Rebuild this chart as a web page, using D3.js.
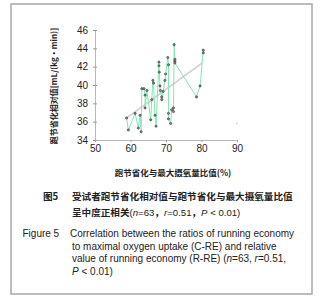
<!DOCTYPE html>
<html><head><meta charset="utf-8">
<script src="https://cdn.jsdelivr.net/npm/d3@7"></script>
<style>body{margin:0;background:#fff}svg{display:block}</style>
</head><body>
<script>
// data, ordered as connected by the green line
const xVals = [58.9,59.4,61.3,62.2,62.7,63.0,63.2,63.8,64.1,64.1,64.6,65.7,66.0,66.3,66.5,66.9,67.2,68.0,68.0,68.1,68.3,68.4,68.8,68.8,69.2,69.7,69.9,70.5,70.7,70.7,70.7,71.3,71.6,72.1,72.1,72.3,72.5,72.5,72.5,78.6,79.6,80.5,80.5];
const yVals = [36.4,35.1,36.9,35.3,36.7,34.9,39.6,39.6,38.9,37.5,39.4,36.2,38.4,40.5,40.2,36.7,35.5,42.5,42.1,41.4,39.9,39.4,38.7,38.4,39.3,40.5,41.2,43.0,42.2,36.9,36.3,35.8,37.3,37.5,37.1,44.4,42.8,42.6,42.4,38.7,39.9,43.8,43.5];
const trendX = [58.9, 80.2];
const trendY = [36.4, 42.4];
const strayX = [90];
const strayY = [35.8];
const xTicks = [50,60,70,80,90];
const yTicks = [34,36,38,40,42,44,46];

const W=321,H=300;
const svg=d3.select("body").append("svg").attr("width",W).attr("height",H);
svg.append("rect").attr("x",11).attr("y",4).attr("width",301).attr("height",290)
  .attr("fill","none").attr("stroke","#a8a8a8").attr("stroke-width",1.5);

const x=d3.scaleLinear().domain([50,90]).range([95,237]);
const y=d3.scaleLinear().domain([34,46]).range([140,30]);

const ax=svg.append("g").attr("transform","translate(0,140)")
  .call(d3.axisBottom(x).tickValues(xTicks).tickSize(2).tickPadding(3));
const ay=svg.append("g").attr("transform","translate(95,0)")
  .call(d3.axisLeft(y).tickValues(yTicks).tickSize(2).tickPadding(5));
[ax,ay].forEach(g=>{
  g.select(".domain").attr("stroke","#b8b8b8");
  g.selectAll(".tick line").attr("stroke","#999");
  g.selectAll("text").attr("font-family","Liberation Sans, Arial, sans-serif").attr("font-size",10).attr("fill","#222");
});
ay.selectAll(".tick").append("line").attr("x1",0).attr("x2",2).attr("stroke","#999");

const pts=xVals.map((v,i)=>[v,yVals[i]]);
svg.append("line").attr("x1",x(trendX[0])).attr("y1",y(trendY[0])).attr("x2",x(trendX[1])).attr("y2",y(trendY[1]))
  .attr("stroke","#d4d4d4").attr("stroke-width",1.6);
svg.append("path").attr("d",d3.line().x(d=>x(d[0])).y(d=>y(d[1]))(pts))
  .attr("fill","none").attr("stroke","#86e6b4").attr("stroke-width",1);
svg.selectAll("circle.p").data(pts).join("circle").attr("class","p")
  .attr("cx",d=>x(d[0])).attr("cy",d=>y(d[1])).attr("r",1.1)
  .attr("fill","#888").attr("stroke","#333").attr("stroke-width",0.6);
svg.selectAll("circle.s").data(strayX.map((v,i)=>[v,strayY[i]])).join("circle").attr("class","s")
  .attr("cx",d=>x(d[0])).attr("cy",d=>y(d[1])).attr("r",1.1).attr("fill","#ddd");

const cjk="Noto Sans CJK SC, sans-serif";
const lat="Liberation Sans, Arial, sans-serif";
svg.append("text").attr("transform","translate(57,86) rotate(-90)").attr("text-anchor","middle")
  .attr("font-family",cjk).attr("font-size",8).attr("font-weight",700).attr("fill","#222")
  .text("跑节省化相对值[mL/(kg•min)]");
svg.append("text").attr("x",173).attr("y",176).attr("text-anchor","middle")
  .attr("font-family",cjk).attr("font-size",8.5).attr("font-weight",700).attr("fill","#222")
  .text("跑节省化与最大摄氧量比值(%)");

function line(xp,yp,parts,font,size,weight){
  const t=svg.append("text").attr("x",xp).attr("y",yp).attr("font-family",font).attr("font-size",size)
    .attr("font-weight",weight||400).attr("fill","#222");
  parts.forEach(p=>{const s=t.append("tspan").text(p[0]);
    if(p[1]===1) s.attr("font-style","italic").attr("font-family",lat).attr("font-weight",400);
    if(p[1]===2) s.attr("font-family",lat).attr("font-weight",400);});
}
line(43,200,[["图5"]],cjk,9.6,700);
line(72,200,[["受试者跑节省化相对值与跑节省化与最大摄氧量比值"]],cjk,9.6,700);
line(72,215.5,[["呈中度正相关"],["(",2],["n",1],["=63",2],["，"],["r",1],["=0.51",2],["，"],["P",1],[" < 0.01)",2]],cjk,9.6,700);
line(22.5,236.5,[["Figure 5"]],lat,10);
line(70,236.5,[["Correlation between the ratios of running economy"]],lat,10);
line(72,249.5,[["to maximal oxygen uptake (C-RE) and relative"]],lat,10);
line(72,262,[["value of running economy (R-RE) ("],["n",1],["=63, "],["r",1],["=0.51,"]],lat,10);
line(72,274.5,[["P",1],[" < 0.01)"]],lat,10);
</script>
</body></html>
